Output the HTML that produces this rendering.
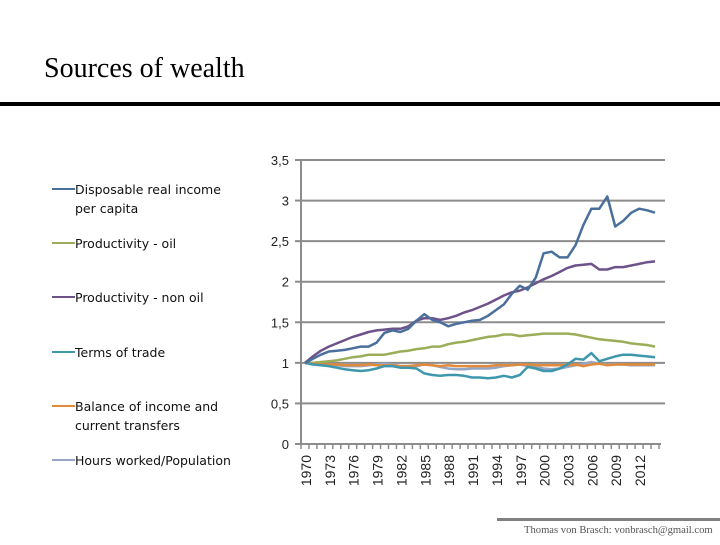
<!DOCTYPE html>
<html><head><meta charset="utf-8"><style>
html,body{margin:0;padding:0;background:#fff;}
body{width:720px;height:540px;overflow:hidden;position:relative;}
</style></head><body>
<svg width="720" height="540" xmlns="http://www.w3.org/2000/svg">
<text x="44" y="77" font-family="Liberation Serif, serif" font-size="28" fill="#000">Sources of wealth</text>
<rect x="0" y="102" width="720" height="4" fill="#000"/>
<g id="grid"></g><g id="axes"></g><g id="series"></g><g id="legend"></g>
<rect x="497" y="518" width="223" height="3" fill="#808080"/>
<text x="524" y="533" font-family="Liberation Serif, serif" font-size="10.6" fill="#555">Thomas von Brasch: vonbrasch@gmail.com</text>
</svg>
<script>
const years=[];for(let y=1970;y<=2014;y++)years.push(y);
const yTicks=[0,0.5,1,1.5,2,2.5,3,3.5];
const yTickLabels=["0","0,5","1","1,5","2","2,5","3","3,5"];
const seriesNames=["Disposable real income per capita","Productivity - oil","Productivity - non oil","Terms of trade","Balance of income and current transfers","Hours worked/Population"];
const seriesColors=["#4a6f9c","#9bad58","#6e528a","#3f97ad","#e08a3c","#95a6c6"];
const income=[1,1.05,1.1,1.14,1.15,1.16,1.18,1.2,1.2,1.25,1.37,1.4,1.38,1.42,1.52,1.6,1.53,1.5,1.45,1.48,1.5,1.52,1.53,1.58,1.65,1.72,1.85,1.95,1.9,2.05,2.35,2.37,2.3,2.3,2.45,2.7,2.9,2.9,3.05,2.68,2.75,2.85,2.9,2.88,2.85];
const prodOil=[1,1,1.01,1.02,1.03,1.05,1.07,1.08,1.1,1.1,1.1,1.12,1.14,1.15,1.17,1.18,1.2,1.2,1.23,1.25,1.26,1.28,1.3,1.32,1.33,1.35,1.35,1.33,1.34,1.35,1.36,1.36,1.36,1.36,1.35,1.33,1.31,1.29,1.28,1.27,1.26,1.24,1.23,1.22,1.2];
const prodNonOil=[1,1.08,1.15,1.2,1.24,1.28,1.32,1.35,1.38,1.4,1.41,1.42,1.42,1.45,1.52,1.55,1.55,1.53,1.55,1.58,1.62,1.65,1.69,1.73,1.78,1.83,1.87,1.89,1.93,1.98,2.03,2.07,2.12,2.17,2.2,2.21,2.22,2.15,2.15,2.18,2.18,2.2,2.22,2.24,2.25];
const terms=[1,0.98,0.97,0.96,0.94,0.92,0.91,0.9,0.91,0.93,0.96,0.96,0.94,0.94,0.93,0.87,0.85,0.84,0.85,0.85,0.84,0.82,0.82,0.81,0.82,0.84,0.82,0.85,0.95,0.93,0.9,0.9,0.93,0.98,1.05,1.04,1.12,1.02,1.05,1.08,1.1,1.1,1.09,1.08,1.07];
const balance=[1,0.99,0.98,0.98,0.98,0.97,0.97,0.97,0.98,0.97,0.97,0.97,0.96,0.96,0.97,0.98,0.97,0.96,0.97,0.96,0.96,0.96,0.96,0.96,0.97,0.97,0.97,0.98,0.98,0.97,0.97,0.97,0.97,0.97,0.98,0.96,0.98,0.99,0.97,0.98,0.98,0.98,0.98,0.98,0.98];
const hours=[1,0.99,0.98,0.97,0.97,0.96,0.96,0.96,0.97,0.98,0.99,0.98,0.96,0.96,0.96,0.98,0.97,0.95,0.93,0.92,0.92,0.93,0.93,0.93,0.94,0.96,0.97,0.98,0.96,0.95,0.93,0.92,0.93,0.95,0.97,0.99,1.01,0.99,0.98,0.98,0.98,0.97,0.97,0.97,0.97];
const allSeries=[income,prodOil,prodNonOil,terms,balance,hours];
const NS="http://www.w3.org/2000/svg";
const X0=301,X1=659,Y0=444,Y1=160,YMAX=3.5;
const xs=i=>X0+(i+0.5)*(X1-X0)/years.length;
const ys=v=>Y0-(v/YMAX)*(Y0-Y1);
function mk(tag,attrs,parent){const e=document.createElementNS(NS,tag);for(const k in attrs)e.setAttribute(k,attrs[k]);parent.appendChild(e);return e;}
const grid=document.getElementById('grid'),axes=document.getElementById('axes'),ser=document.getElementById('series'),leg=document.getElementById('legend');
yTicks.forEach((t,i)=>{
 const y=ys(t);
 if(t>0){const g=mk('line',{x1:X0,x2:X1+6,y1:y,y2:y,stroke:'#8c8c8c','stroke-width':2},grid);
 
 }
 const tk=mk('line',{x1:X0-6,x2:X0,y1:y,y2:y,stroke:'#8c8c8c','stroke-width':2},axes);
 
 
 const tx=mk('text',{x:X0-12,y:y+5,'text-anchor':'end','font-family':'Liberation Sans, sans-serif','font-size':13,fill:'#222'},axes);
 tx.textContent=yTickLabels[i];
 
 
});
const ya=mk('line',{x1:X0,x2:X0,y1:Y1,y2:Y0,stroke:'#8c8c8c','stroke-width':2},axes);


const xa=mk('line',{x1:X0,x2:X1+2,y1:Y0,y2:Y0,stroke:'#8c8c8c','stroke-width':2},axes);


for(let i=0;i<=years.length;i++){
 const x=X0+i*(X1-X0)/years.length;
 const t=mk('line',{x1:x,x2:x,y1:Y0,y2:Y0+5,stroke:'#8c8c8c','stroke-width':1.5},axes);
 
 
}
years.forEach((yr,i)=>{
 if((yr-1970)%3!==0)return;
 const x=xs(i)+6;
 const t=mk('text',{x:x,y:455,transform:`rotate(-90 ${x} 455)`,'text-anchor':'end','font-family':'Liberation Sans, sans-serif','font-size':14,fill:'#222'},axes);
 t.textContent=yr;
 
 
});
[5,1,4,3,2,0].forEach(s=>{
 const d=allSeries[s].map((v,i)=>(i?'L':'M')+xs(i).toFixed(1)+','+ys(v).toFixed(1)).join(' ');
 const p=mk('path',{d:d,fill:'none',stroke:seriesColors[s],'stroke-width':2.5,'stroke-linejoin':'round'},ser);
 
 
});
const legY=[[194,213],[248],[302],[357],[411,430],[465]];
const legText=[["Disposable real income","per capita"],["Productivity - oil"],["Productivity - non oil"],["Terms of trade"],["Balance of income and","current transfers"],["Hours worked/Population"]];
legText.forEach((lines,s)=>{
 const g=mk('g',{},leg);
 
 
 mk('line',{x1:52,x2:75,y1:legY[s][0]-5,y2:legY[s][0]-5,stroke:seriesColors[s],'stroke-width':2},g);
 lines.forEach((ln,j)=>{const t=mk('text',{x:75,y:legY[s][j],'font-family':'DejaVu Sans, Liberation Sans, sans-serif','font-size':12.5,fill:'#111'},g);t.textContent=ln;});
});
</script>
</body></html>
